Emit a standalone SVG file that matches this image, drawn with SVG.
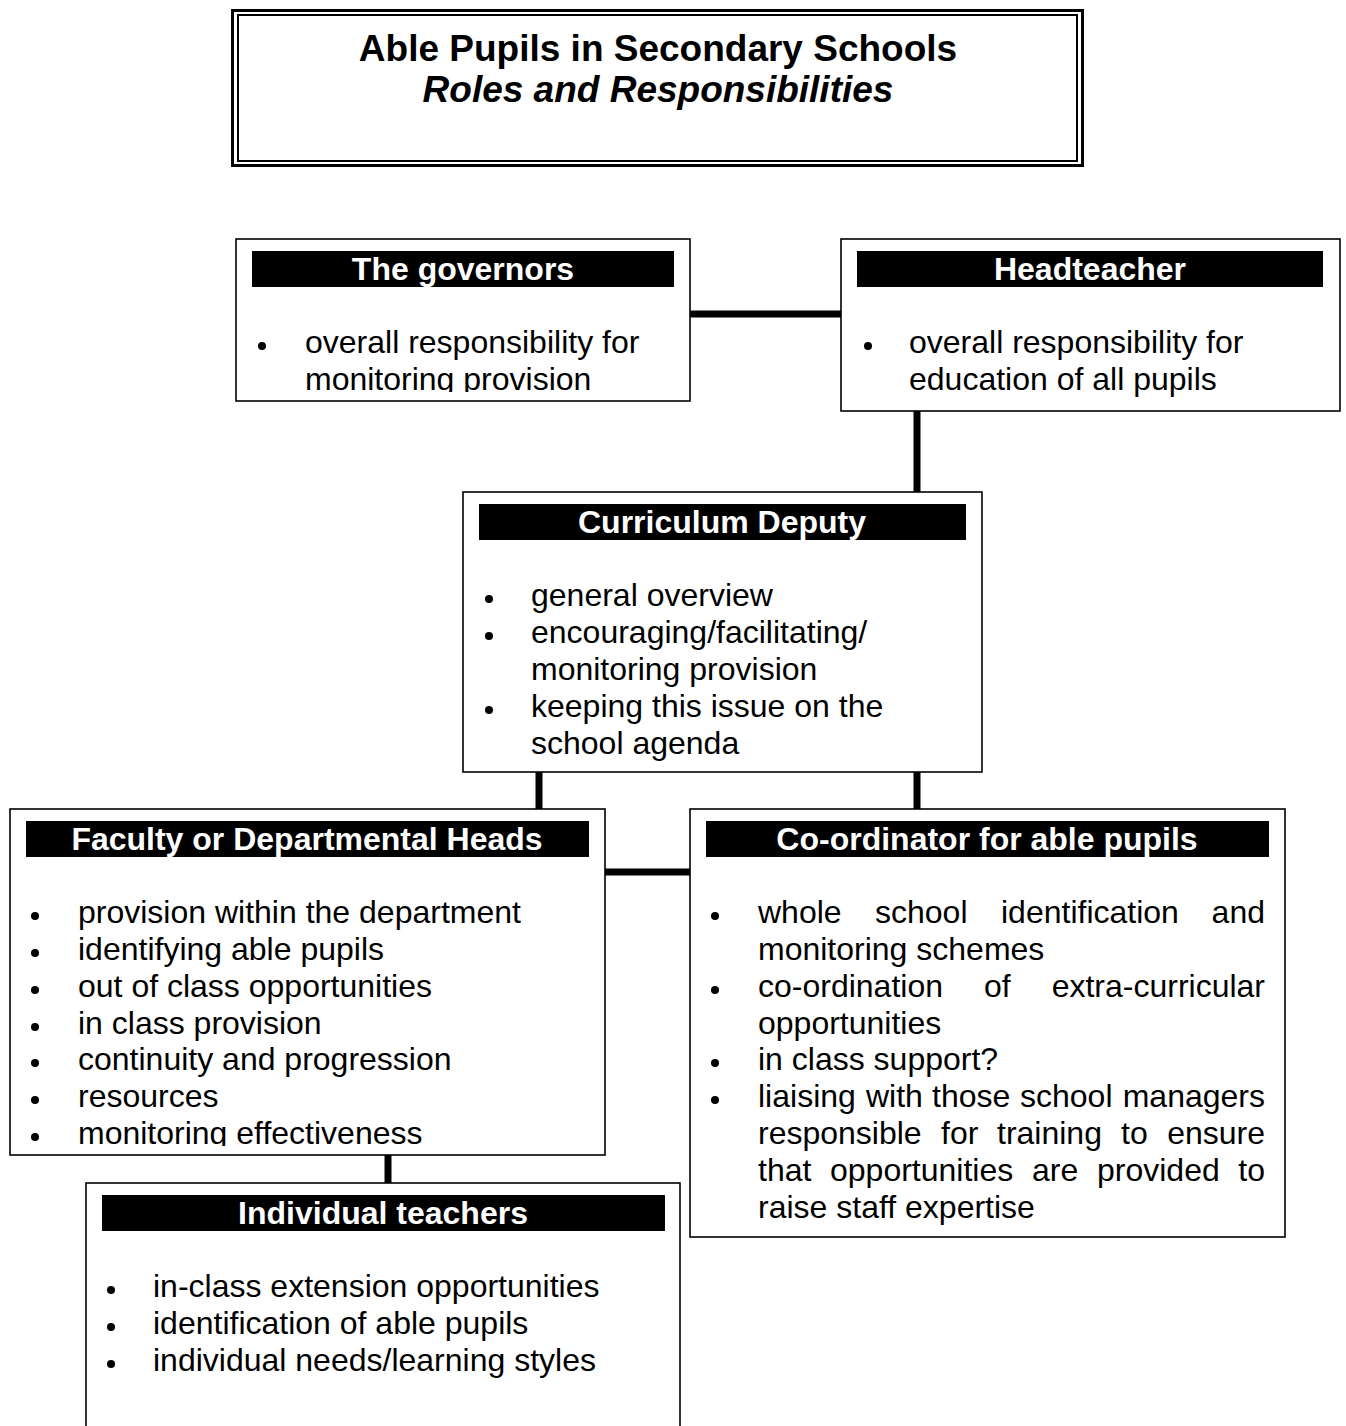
<svg xmlns="http://www.w3.org/2000/svg" width="1346" height="1426" viewBox="0 0 1346 1426">
<style>
.box{fill:#fff;stroke:#000;stroke-width:1.6}
.hdr{fill:#000}
.ht{font-family:"Liberation Sans",Arial,sans-serif;font-weight:bold;font-size:32px;fill:#fff;text-anchor:middle}
.bt{font-family:"Liberation Sans",Arial,sans-serif;font-size:32px;fill:#000}
.ttl{font-family:"Liberation Sans",Arial,sans-serif;font-weight:bold;font-size:37px;fill:#000;text-anchor:middle}
.conn{stroke:#000;stroke-width:7;fill:none}
.bul{fill:#000}
</style>
<defs>
<clipPath id="clipGov"><rect x="236" y="239" width="454" height="153"/></clipPath>
<clipPath id="clipFac"><rect x="10" y="809" width="595" height="337"/></clipPath>
</defs>
<rect width="1346" height="1426" fill="#fff"/>

<g id="connectors">
<line class="conn" x1="690" y1="314" x2="841" y2="314"/>
<line class="conn" x1="917" y1="411" x2="917" y2="492"/>
<line class="conn" x1="539" y1="772" x2="539" y2="809"/>
<line class="conn" x1="917" y1="772" x2="917" y2="809"/>
<line class="conn" x1="605" y1="872" x2="690" y2="872"/>
<line class="conn" x1="388" y1="1155" x2="388" y2="1183"/>
</g>

<g id="title">
<rect x="232.5" y="10.5" width="850" height="155" fill="#fff" stroke="#000" stroke-width="3"/>
<rect x="238" y="15" width="839" height="146" fill="none" stroke="#000" stroke-width="2"/>
<text class="ttl" x="658" y="61">Able Pupils in Secondary Schools</text>
<text class="ttl" x="658" y="102" font-style="italic">Roles and Responsibilities</text>
</g>

<g id="governors">
<rect class="box" x="236" y="239" width="454" height="162"/>
<rect class="hdr" x="252" y="251" width="422" height="36"/>
<text class="ht" x="463" y="280">The governors</text>
<g clip-path="url(#clipGov)">
<circle class="bul" cx="262" cy="346" r="4"/>
<text class="bt" x="305" y="353">overall responsibility for</text>
<text class="bt" x="305" y="390">monitoring provision</text>
</g>
</g>

<g id="headteacher">
<rect class="box" x="841" y="239" width="499" height="172"/>
<rect class="hdr" x="857" y="251" width="466" height="36"/>
<text class="ht" x="1090" y="280">Headteacher</text>
<circle class="bul" cx="868" cy="346" r="4"/>
<text class="bt" x="909" y="353">overall responsibility for</text>
<text class="bt" x="909" y="390">education of all pupils</text>
</g>

<g id="curriculum-deputy">
<rect class="box" x="463" y="492" width="519" height="280"/>
<rect class="hdr" x="479" y="504" width="487" height="36"/>
<text class="ht" x="722" y="533">Curriculum Deputy</text>
<circle class="bul" cx="489" cy="599" r="4"/>
<text class="bt" x="531" y="606">general overview</text>
<circle class="bul" cx="489" cy="636" r="4"/>
<text class="bt" x="531" y="643">encouraging/facilitating/</text>
<text class="bt" x="531" y="680">monitoring provision</text>
<circle class="bul" cx="489" cy="710" r="4"/>
<text class="bt" x="531" y="717">keeping this issue on the</text>
<text class="bt" x="531" y="754">school agenda</text>
</g>

<g id="faculty-heads">
<rect class="box" x="10" y="809" width="595" height="346"/>
<rect class="hdr" x="26" y="821" width="563" height="36"/>
<text class="ht" x="307" y="850">Faculty or Departmental Heads</text>
<g clip-path="url(#clipFac)">
<circle class="bul" cx="35" cy="916" r="4"/>
<text class="bt" x="78" y="923">provision within the department</text>
<circle class="bul" cx="35" cy="953" r="4"/>
<text class="bt" x="78" y="960">identifying able pupils</text>
<circle class="bul" cx="35" cy="990" r="4"/>
<text class="bt" x="78" y="997">out of class opportunities</text>
<circle class="bul" cx="35" cy="1027" r="4"/>
<text class="bt" x="78" y="1034">in class provision</text>
<circle class="bul" cx="35" cy="1063" r="4"/>
<text class="bt" x="78" y="1070">continuity and progression</text>
<circle class="bul" cx="35" cy="1100" r="4"/>
<text class="bt" x="78" y="1107">resources</text>
<circle class="bul" cx="35" cy="1137" r="4"/>
<text class="bt" x="78" y="1144">monitoring effectiveness</text>
</g>
</g>

<g id="coordinator">
<rect class="box" x="690" y="809" width="595" height="428"/>
<rect class="hdr" x="706" y="821" width="563" height="36"/>
<text class="ht" x="987" y="850">Co-ordinator for able pupils</text>
<circle class="bul" cx="715" cy="916" r="4"/>
<text class="bt" y="923"><tspan x="758">whole</tspan><tspan x="875">school</tspan><tspan x="1001">identification</tspan><tspan x="1265" text-anchor="end">and</tspan></text>
<text class="bt" x="758" y="960">monitoring schemes</text>
<circle class="bul" cx="715" cy="990" r="4"/>
<text class="bt" y="997"><tspan x="758">co-ordination</tspan><tspan x="984">of</tspan><tspan x="1265" text-anchor="end">extra-curricular</tspan></text>
<text class="bt" x="758" y="1034">opportunities</text>
<circle class="bul" cx="715" cy="1063" r="4"/>
<text class="bt" x="758" y="1070">in class support?</text>
<circle class="bul" cx="715" cy="1100" r="4"/>
<text class="bt" y="1107"><tspan x="758">liaising</tspan><tspan x="866">with</tspan><tspan x="932">those</tspan><tspan x="1020">school</tspan><tspan x="1265" text-anchor="end">managers</tspan></text>
<text class="bt" y="1144"><tspan x="758">responsible</tspan><tspan x="941">for</tspan><tspan x="997">training</tspan><tspan x="1121">to</tspan><tspan x="1265" text-anchor="end">ensure</tspan></text>
<text class="bt" y="1181"><tspan x="758">that</tspan><tspan x="830">opportunities</tspan><tspan x="1032">are</tspan><tspan x="1097">provided</tspan><tspan x="1265" text-anchor="end">to</tspan></text>
<text class="bt" x="758" y="1218">raise staff expertise</text>
</g>

<g id="individual-teachers">
<rect class="box" x="86" y="1183" width="594" height="260"/>
<rect class="hdr" x="102" y="1195" width="563" height="36"/>
<text class="ht" x="383" y="1224">Individual teachers</text>
<circle class="bul" cx="111" cy="1290" r="4"/>
<text class="bt" x="153" y="1297">in-class extension opportunities</text>
<circle class="bul" cx="111" cy="1327" r="4"/>
<text class="bt" x="153" y="1334">identification of able pupils</text>
<circle class="bul" cx="111" cy="1364" r="4"/>
<text class="bt" x="153" y="1371">individual needs/learning styles</text>
</g>
</svg>
